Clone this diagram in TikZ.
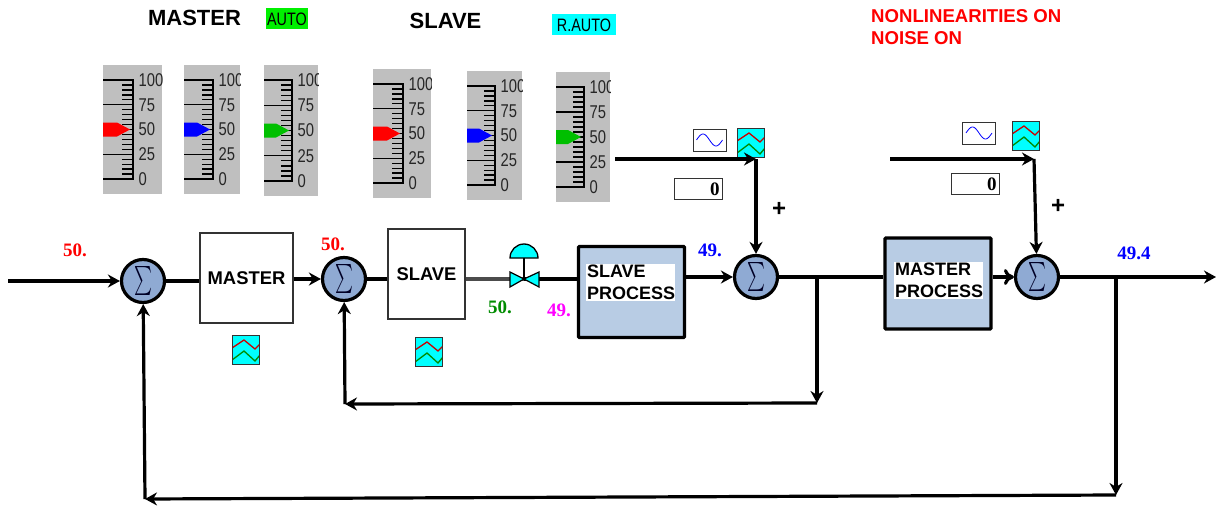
\documentclass[tikz,border=0pt]{standalone}
\usepackage{fontspec}
\setmainfont{Liberation Sans}
\newfontfamily\numfont{Liberation Serif}
\newfontfamily\gaugefont[FakeStretch=0.8]{Liberation Sans}
\usepackage{tikz}
\usetikzlibrary{shapes.geometric, arrows.meta, positioning}

% one bar gauge: name, left, top, right, bottom, scale x, pointer colour
\newcommand{\gauge}[7]{
  \fill [gaugegray] (#2,#3) rectangle (#4,#5);
  \begin{scope}
    \clip (#2,#3) rectangle (#4,#5);
    \draw [line width=1.4pt] (#2,#3+15) -- (#6,#3+15) -- (#6,#5-15) -- (#2,#5-15);
    \foreach \i in {0,...,20} {
      \pgfmathsetmacro{\ty}{#3+15+\i*(#5-#3-30)/20}
      \draw [line width=1.3pt] (#6-11,\ty) -- (#6,\ty);
    }
    \foreach \v/\i in {100/0,75/5,50/10,25/15,0/20} {
      \pgfmathsetmacro{\ty}{#3+15+\i*(#5-#3-30)/20}
      \draw [line width=1.3pt] (#2,\ty) -- (#6,\ty);
      \node (#1-\v) [gaugetext] at (#6+5.5,\ty) {\v};
    }
    \pgfmathsetmacro{\my}{#3+15+10*(#5-#3-30)/20}
    \fill [#7] (#2,\my-7) -- (#6-16,\my-7) -- (#6-3,\my) -- (#6-16,\my+7) -- (#2,\my+7) -- cycle;
  \end{scope}
}

\begin{document}
\begin{tikzpicture}[
    x=1pt, y=-1pt,
    gaugegray/.style={fill=black!25},
    gaugetext/.style={anchor=west, inner sep=0pt, font=\gaugefont\fontsize{18.5}{18.5}\selectfont, text=black!85},
    block/.style={draw=black!80, fill=white, rectangle, line width=1.2pt, inner sep=0pt, font=\bfseries\fontsize{18.4}{20}\selectfont},
    process/.style={draw=black, fill=procblue, rectangle, rounded corners=1pt, line width=3.2pt, minimum width=106pt, minimum height=91pt},
    proclabel/.style={fill=white, inner sep=1pt, text width=87pt, align=left, font=\bfseries\fontsize{18}{22}\selectfont},
    sumnode/.style={draw=black, fill=sumblue, circle, line width=3.2pt, minimum size=43pt, inner sep=0pt, text=black!85!blue},
    arrow/.style={line width=3.2pt, -{Stealth[length=12pt,width=13pt]}},
    line/.style={line width=3.2pt},
    value/.style={font=\numfont\bfseries\fontsize{19}{19}\selectfont, inner sep=0pt},
    plusmark/.style={font=\bfseries\fontsize{24}{24}\selectfont, inner sep=0pt},
    title/.style={font=\bfseries\fontsize{22}{22}\selectfont, inner sep=0pt},
    modetag/.style={inner sep=0pt, font=\gaugefont\fontsize{18}{18}\selectfont},
    numbox/.style={draw=black!80, fill=white, line width=1pt, minimum height=21pt, inner sep=3pt, text width=42pt, align=right, font=\numfont\bfseries\fontsize{19}{19}\selectfont},
    sinebox/.style={draw=black!80, fill=white, line width=1pt, minimum width=33pt, minimum height=22pt, inner sep=0pt,
        path picture={\draw [blue, line width=.8pt, shift={(path picture bounding box.center)}] plot [domain=-13:13, samples=30] (\x,{-6*sin(360*(\x+13)/26)});}},
    trendicon/.style={draw=black!80, fill=valvecyan, line width=1pt, minimum width=27pt, minimum height=29pt, inner sep=0pt,
        path picture={
          \draw [red!80!black, line width=1.3pt] (path picture bounding box.center) ++(-14,-2) -- ++(12,-8) -- ++(11,9) -- ++(5,-5);
          \draw [green!55!black, line width=1.3pt] (path picture bounding box.center) ++(-14,10) -- ++(12,-9) -- ++(11,10) -- ++(5,-6);}}
]
\definecolor{procblue}{HTML}{B8CCE4}
\definecolor{sumblue}{HTML}{8FAAD3}
\definecolor{autogreen}{HTML}{00F000}
\definecolor{valvecyan}{HTML}{00FFFF}
\definecolor{purevalue}{HTML}{FF00FF}
\newcommand{\sumsign}{\scalebox{1.7}[2.9]{$\sum$}}
\useasboundingbox [fill=white] (0,0) rectangle (1221,511);

% headings
\node (mastertitle) [title] at (194.5,18) {MASTER};
\node (mastermode) [modetag, fill=autogreen, minimum width=42pt, minimum height=21pt] at (287,19) {AUTO};
\node (slavetitle) [title] at (445.5,21) {SLAVE};
\node (slavemode) [modetag, fill=valvecyan, minimum width=64pt, minimum height=21pt] at (584,25) {R.AUTO};
\node (status) [anchor=north west, inner sep=0pt, align=left, text=red, font=\bfseries\fontsize{18.6}{22}\selectfont] at (871,9) {NONLINEARITIES ON\\NOISE ON};

% gauges
\gauge{mpv}{103}{65}{162}{194}{133}{red}
\gauge{msp}{184}{65}{240}{194}{213}{blue}
\gauge{mout}{264}{65}{318}{196}{292}{green!75!black}
\gauge{spv}{373}{69}{431}{198}{403}{red}
\gauge{ssp}{467}{71}{522}{200}{495}{blue}
\gauge{sout}{556}{72}{610}{202}{584}{green!75!black}

% main loop
\node (sum1) [sumnode] at (143,281) {\sumsign};
\node (master) [block, minimum width=93pt, minimum height=90pt] at (246.5,278) {MASTER};
\node (sum2) [sumnode] at (344,279) {\sumsign};
\node (slave) [block, minimum width=77pt, minimum height=90pt] at (426.5,274) {SLAVE};
\coordinate (valve) at (524,279);
\node (slaveproc) [process] at (631.5,292) {};
\node (slavelabel) [proclabel] at (630.5,282.5) {SLAVE\\PROCESS};
\node (sum3) [sumnode] at (756,277) {\sumsign};
\node (masterproc) [process] at (938,283.5) {};
\node (masterlabel) [proclabel] at (938.5,280.5) {MASTER\\PROCESS};
\node (sum4) [sumnode] at (1037,277) {\sumsign};

\node (mastertrend) [trendicon] at (246,350) {};
\node (slavetrend) [trendicon] at (429,352) {};

% disturbances
\node (sine1) [sinebox] at (709.5,140) {};
\node (trend1) [trendicon] at (751,143) {};
\node (zero1) [numbox] at (698.5,189) {0};
\node (sine2) [sinebox] at (979,133) {};
\node (trend2) [trendicon] at (1026,136) {};
\node (zero2) [numbox] at (975.5,184) {0};

\coordinate (in) at (8,281);
\coordinate (out) at (1216,277);
\coordinate (tap1) at (817,277);
\coordinate (tap1low) at (817,403);
\coordinate (fb1) at (345,404);
\coordinate (tap2) at (1116,277);
\coordinate (tap2low) at (1116,495);
\coordinate (fb2) at (145,499);
\coordinate (dist1) at (615,159);
\coordinate (corner1) at (756,159);
\coordinate (dist2) at (890,159);
\coordinate (corner2) at (1034,159);

% connectors
\draw [arrow] (in) -- (sum1);
\draw [line] (sum1) -- (master.west |- sum1);
\draw [arrow] (master.east |- sum2) -- (sum2);
\draw [line] (sum2) -- (slave.west |- sum2);
\draw [line, black!70] (slave.east |- valve) -- (valve);
\draw [line] (valve) -- (slaveproc.west |- valve);
\draw [arrow] (slaveproc.east |- sum3) -- (sum3);
\draw [line] (sum3) -- (masterproc.west |- sum3);
\draw [line width=3.2pt, -{To[length=10pt,width=16pt]}] (masterproc.east |- sum4) -- (sum4);
\draw [arrow] (sum4) -- (out);

\draw [arrow] (tap1) -- (tap1low);
\draw [arrow] (tap1low) -- (fb1);
\draw [arrow] (fb1) -- (sum2);
\draw [arrow] (tap2) -- (tap2low);
\draw [arrow] (tap2low) -- (fb2);
\draw [arrow] (fb2) -- (sum1);

\draw [arrow] (dist1) -- (corner1);
\draw [arrow] (corner1) -- (sum3);
\draw [arrow] (dist2) -- (corner2);
\draw [arrow] (corner2) -- (sum4);

% valve
\draw [line width=1.3pt, fill=valvecyan] (510,258) arc (180:360:14) -- cycle;
\draw [line width=1.2pt] (524,258) -- (valve);
\draw [line width=1.2pt, fill=valvecyan] (valve) -- (510,272) -- (510,287) -- cycle;
\draw [line width=1.2pt, fill=valvecyan] (valve) -- (539,272) -- (539,287) -- cycle;

% readouts
\node (sp1) [value, text=red] at (75,250) {50.};
\node (sp2) [value, text=red] at (333,244) {50.};
\node (outval) [value, text=green!55!black] at (500,307) {50.};
\node (pv2) [value, text=purevalue] at (559,310) {49.};
\node (pv1) [value, text=blue] at (710,250) {49.};
\node (pvfinal) [value, text=blue] at (1134,253) {49.4};
\node (plus1) [plusmark] at (779,209) {+};
\node (plus2) [plusmark] at (1058,206) {+};

\end{tikzpicture}
\end{document}
